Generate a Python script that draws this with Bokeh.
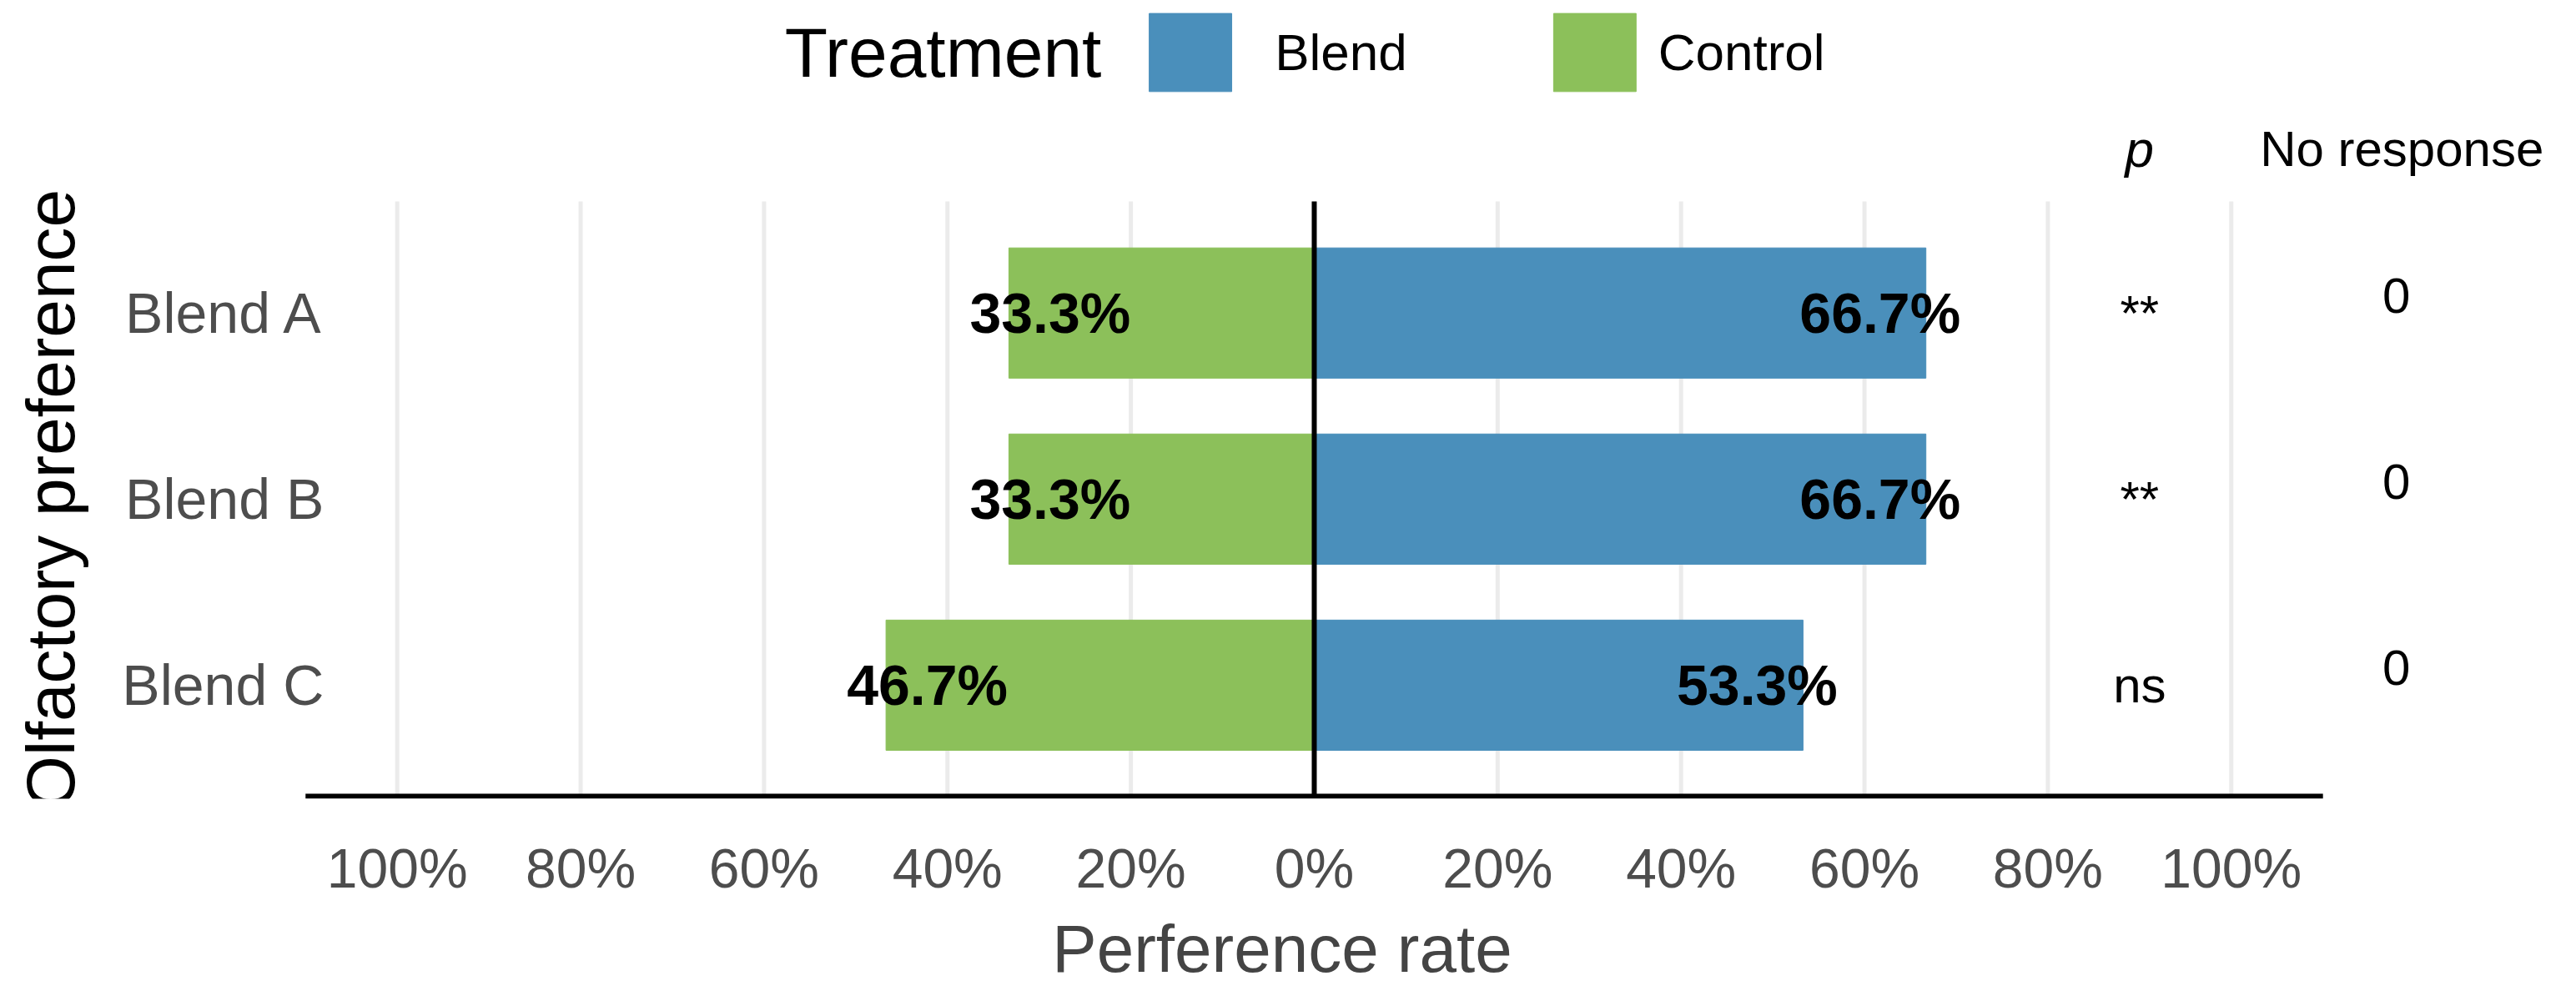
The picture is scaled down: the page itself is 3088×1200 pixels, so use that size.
import numpy as np
from bokeh.plotting import figure
from bokeh.models import FixedTicker, CustomJSTickFormatter, ColumnDataSource
from bokeh.core.properties import value
from bokeh.embed import file_html
from bokeh.resources import INLINE

# data
blends = ["Blend A", "Blend B", "Blend C"]
blend_rate = [0.667, 0.667, 0.533]
control_rate = [0.333, 0.333, 0.467]
p_labels = ["**", "**", "ns"]
no_response = [0, 0, 0]
tick_values = [-1.0, -0.8, -0.6, -0.4, -0.2, 0.0, 0.2, 0.4, 0.6, 0.8, 1.0]

FONT = value("Liberation Sans")
BLUE = "#4A8FBB"
GREEN = "#8CC05A"

ypos = [3, 2, 1]
src = ColumnDataSource(dict(
    y=ypos, name=blends,
    blend=blend_rate, control=[-c for c in control_rate],
    blend_lab=["%.1f%%" % (b * 100) for b in blend_rate],
    ctrl_lab=["%.1f%%" % (c * 100) for c in control_rate],
    blend_x=[b - 0.05 for b in blend_rate],
    ctrl_x=[-c + 0.045 for c in control_rate],
    p=p_labels, nr=[str(n) for n in no_response],
))

p = figure(width=3070, height=1184, x_range=(-1.43, 1.36), y_range=(0.39, 4.68),
           output_backend="svg", toolbar_location=None,
           min_border_left=3, min_border_right=0, min_border_top=0)
p.outline_line_color = None
p.grid.visible = False
p.yaxis.visible = False

# grid lines
p.segment(x0=tick_values, x1=tick_values, y0=0.404, y1=3.6, line_color="#EBEBEB", line_width=5)

# bars
p.hbar(y="y", left=0, right="control", height=0.7, color=GREEN, source=src)
p.hbar(y="y", left=0, right="blend", height=0.7, color=BLUE, source=src)

# zero line and x axis line
p.segment(x0=[0], x1=[0], y0=[0.404], y1=[3.6], line_color="black", line_width=6)
p.segment(x0=[-1.1], x1=[1.1], y0=[0.404], y1=[0.404], line_color="black", line_width=6)

# bar labels
p.text(x="blend_x", y="y", text="blend_lab", source=src, text_align="center",
       text_baseline="middle", text_font=FONT, text_font_style="bold", text_font_size="68px")
p.text(x="ctrl_x", y="y", text="ctrl_lab", source=src, text_align="center",
       text_baseline="middle", text_font=FONT, text_font_style="bold", text_font_size="68px")

# category labels
p.text(x=-1.08, y="y", text="name", source=src, text_align="right", text_baseline="middle",
       text_font=FONT, text_font_size="68px", text_color="#4D4D4D")
p.text(x=[-1.378], y=[2.0], text=["Olfactory preference"], angle=np.pi / 2, text_align="center",
       text_baseline="middle", text_font=FONT, text_font_size="82px", text_color="black")

# p value and no response columns
p.text(x=0.9, y="y", text="p", source=src, text_align="center", text_baseline="middle",
       text_font=FONT, text_font_size="60px")
p.text(x=1.18, y="y", text="nr", source=src, text_align="center", text_baseline="bottom",
       text_font=FONT, text_font_size="60px")
p.text(x=[0.9], y=[3.88], text=["p"], text_align="center", text_baseline="middle",
       text_font=FONT, text_font_style="italic", text_font_size="62px")
p.text(x=[1.186], y=[3.88], text=["No response"], text_align="center", text_baseline="middle",
       text_font=FONT, text_font_size="60px")

# legend
p.text(x=[-0.232], y=[4.4], text=["Treatment"], text_align="right", text_baseline="middle",
       text_font=FONT, text_font_size="84px")
p.rect(x=[-0.135, 0.306], y=[4.4, 4.4], width=0.09, height=0.42, color=[BLUE, GREEN])
p.text(x=[-0.043, 0.375], y=[4.4, 4.4], text=["Blend", "Control"], text_align="left",
       text_baseline="middle", text_font=FONT, text_font_size="62px")

# x axis
p.xaxis.ticker = FixedTicker(ticks=tick_values)
p.xaxis.formatter = CustomJSTickFormatter(code="return Math.round(Math.abs(tick)*100) + '%';")
p.xaxis.axis_line_color = None
p.xaxis.major_tick_line_color = None
p.xaxis.minor_tick_line_color = None
p.xaxis.major_label_text_font = "Liberation Sans"
p.xaxis.major_label_text_font_size = "66px"
p.xaxis.major_label_text_color = "#4D4D4D"
p.xaxis.major_label_standoff = 40
p.xaxis.axis_label = "Perference rate"
p.xaxis.axis_label_text_font = "Liberation Sans"
p.xaxis.axis_label_text_font_size = "80px"
p.xaxis.axis_label_text_font_style = "normal"
p.xaxis.axis_label_standoff = 12

open("out.html", "w").write(file_html(p, INLINE))
